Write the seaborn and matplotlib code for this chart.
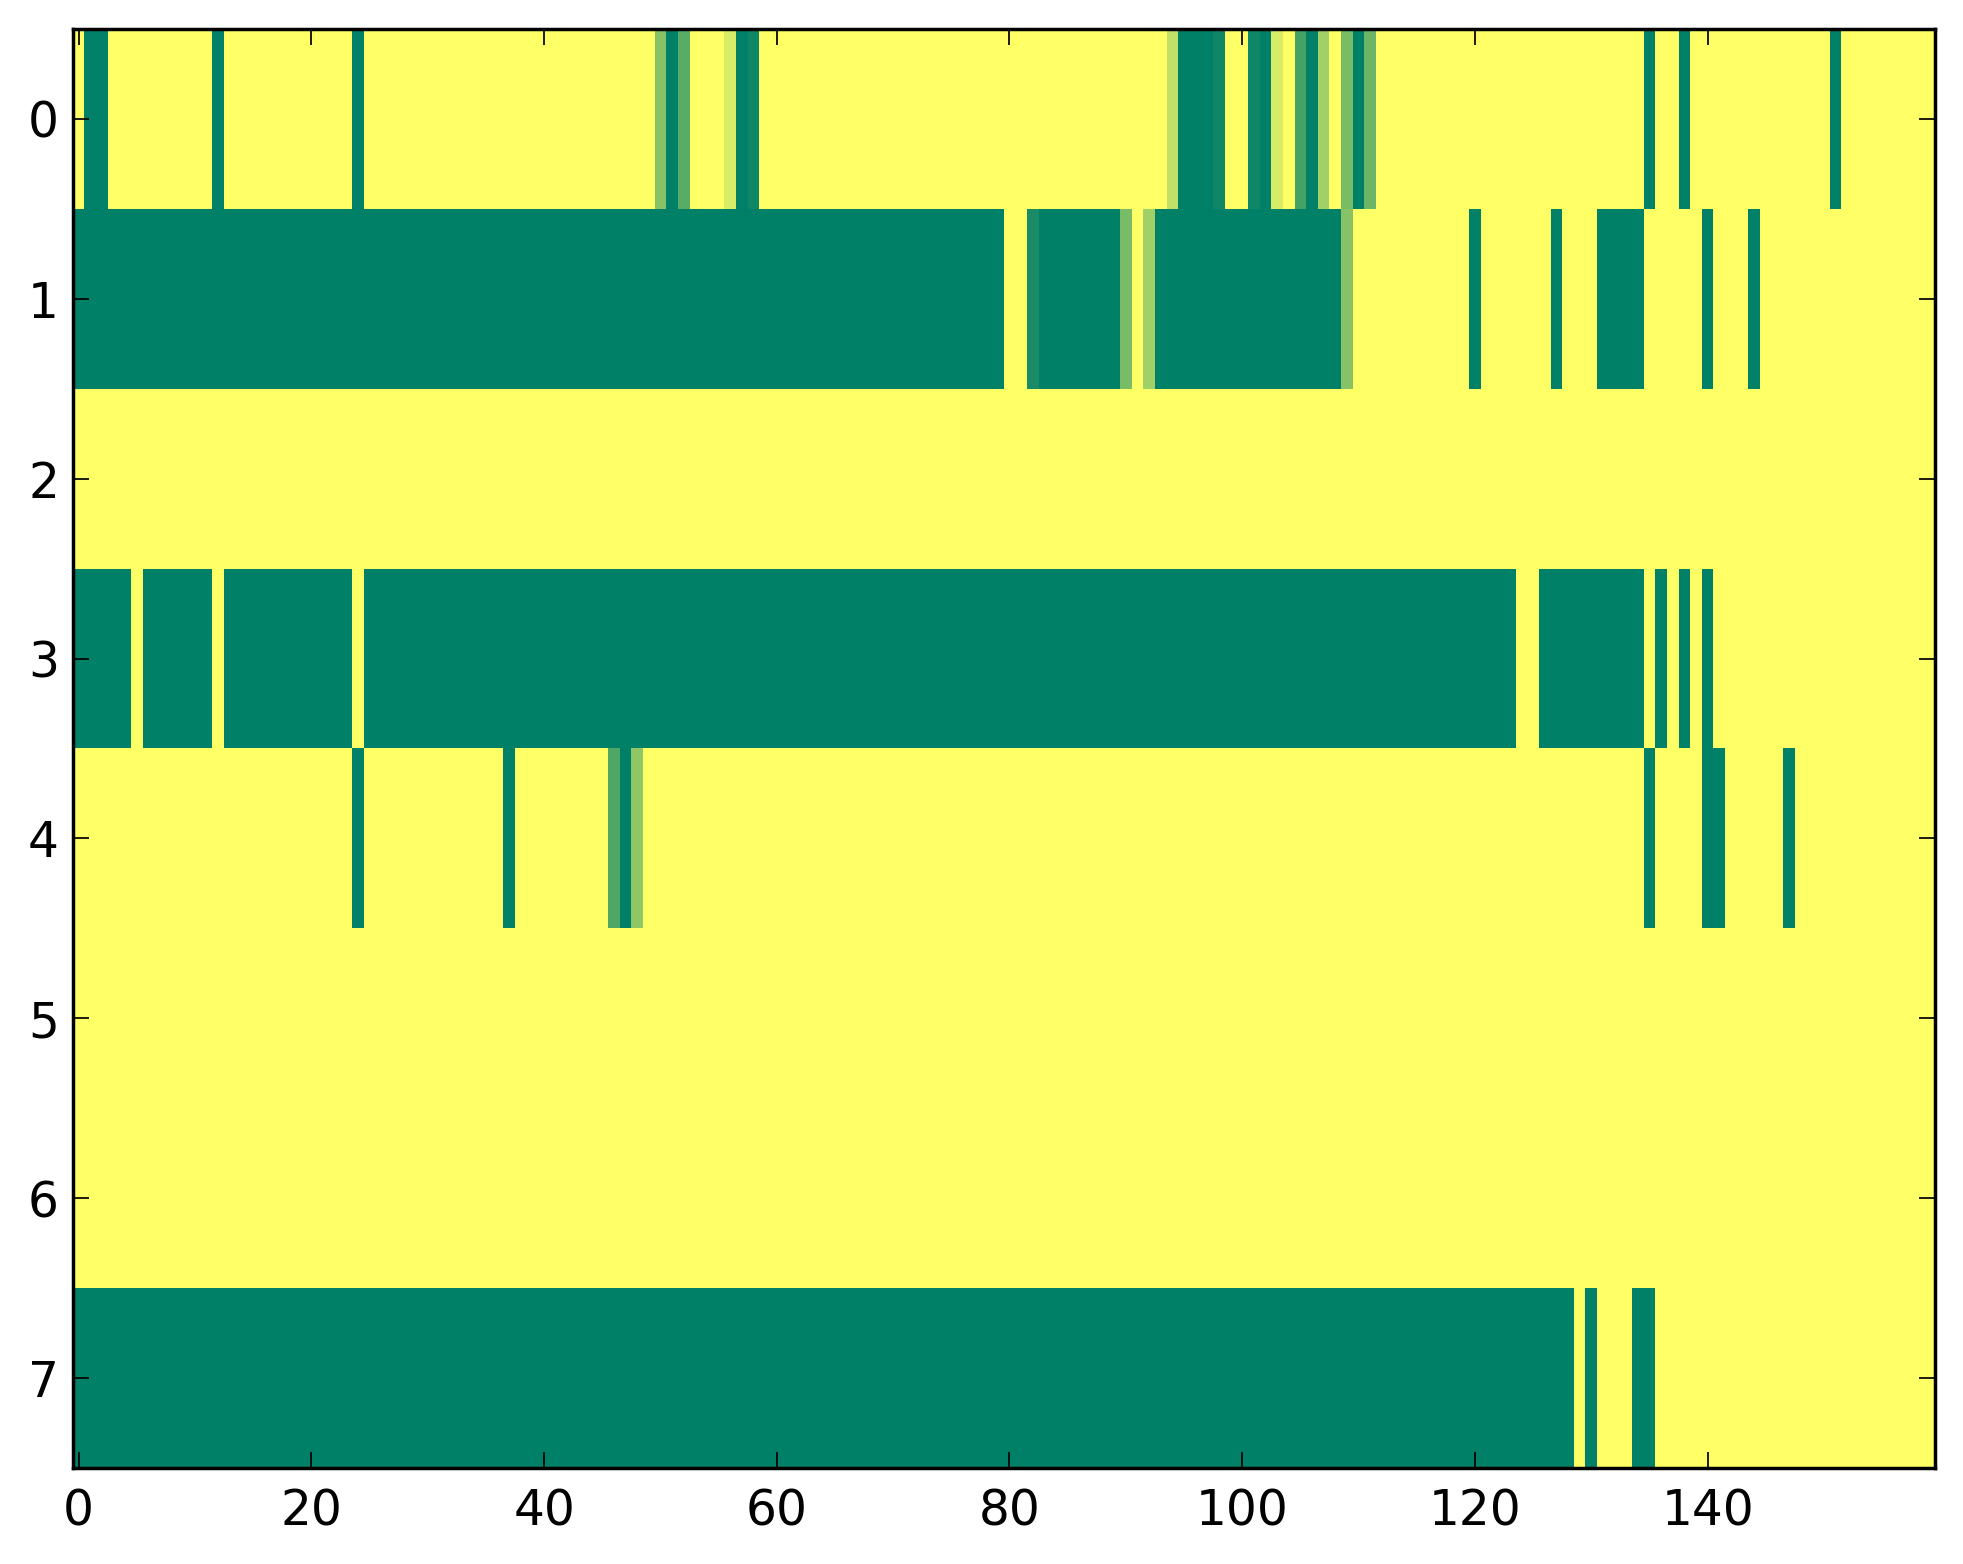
import numpy as np
import pandas as pd
import matplotlib
matplotlib.use('Agg')
import matplotlib.pyplot as plt
import seaborn as sns

# shade code per cell ('.' = yellow / 1.0, '#' = dark green / 0.0)
SHADES = {
    '.': 1.0, '#': 0.0,
    'a': 0.06, 'b': 0.10, 'c': 0.27, 'd': 0.31, 'e': 0.35, 'f': 0.42,
    'g': 0.47, 'h': 0.53, 'i': 0.56, 'j': 0.63, 'k': 0.75, 'l': 0.85,
}

# each row: 16 chunks of 10 columns (160 columns)
row_0 = [".##.......", "..#.......", "....#.....", "..........",
         "..........", "h#e...l#a.", "..........", "..........",
         "..........", "....k###a.", ".a#l.c#j.g", "#f........",
         "..........", ".....#..#.", "..........", ".#........"]
row_1 = ["##########", "##########", "##########", "##########",
         "##########", "##########", "##########", "##########",
         "..b#######", "g.j#######", "#########h", "..........",
         "#......#..", ".####.....", "#...#.....", ".........."]
row_2 = ["..........", "..........", "..........", "..........",
         "..........", "..........", "..........", "..........",
         "..........", "..........", "..........", "..........",
         "..........", "..........", "..........", ".........."]
row_3 = ["#####.####", "##.#######", "####.#####", "##########",
         "##########", "##########", "##########", "##########",
         "##########", "##########", "##########", "##########",
         "####..####", "#####.#.#.", "#.........", ".........."]
row_4 = ["..........", "..........", "....#.....", ".......#..",
         "......d#i.", "..........", "..........", "..........",
         "..........", "..........", "..........", "..........",
         "..........", ".....#....", "##.....#..", ".........."]
row_5 = ["..........", "..........", "..........", "..........",
         "..........", "..........", "..........", "..........",
         "..........", "..........", "..........", "..........",
         "..........", "..........", "..........", ".........."]
row_6 = ["..........", "..........", "..........", "..........",
         "..........", "..........", "..........", "..........",
         "..........", "..........", "..........", "..........",
         "..........", "..........", "..........", ".........."]
row_7 = ["##########", "##########", "##########", "##########",
         "##########", "##########", "##########", "##########",
         "##########", "##########", "##########", "##########",
         "#########.", "#...##....", "..........", ".........."]

rows = [row_0, row_1, row_2, row_3, row_4, row_5, row_6, row_7]
x_ticks = [0, 20, 40, 60, 80, 100, 120, 140]
y_ticks = [0, 1, 2, 3, 4, 5, 6, 7]

grid = pd.DataFrame([[SHADES[ch] for ch in ''.join(r)] for r in rows])

fig = plt.figure(figsize=(1963 / 250, 1564 / 250), dpi=250)
ax = fig.add_axes([0.0371, 0.0614, 0.9484, 0.9201])

sns.heatmap(grid, cmap='summer', vmin=0, vmax=1, cbar=False, ax=ax,
            xticklabels=False, yticklabels=False, linewidths=0)

ax.set_xticks(np.array(x_ticks) + 0.5, labels=[str(v) for v in x_ticks])
ax.set_yticks(np.array(y_ticks) + 0.5, labels=[str(v) for v in y_ticks])

for s in ax.spines.values():
    s.set_visible(True)
    s.set_linewidth(1.0)
    s.set_color('black')

ax.tick_params(axis='both', direction='in', length=4.5, width=0.5, color='black',
               top=True, right=True, bottom=True, left=True, labelsize=14,
               labelrotation=0)
ax.tick_params(axis='x', pad=5.5)
ax.tick_params(axis='y', pad=4)

fig.savefig('out.png', dpi=250)
